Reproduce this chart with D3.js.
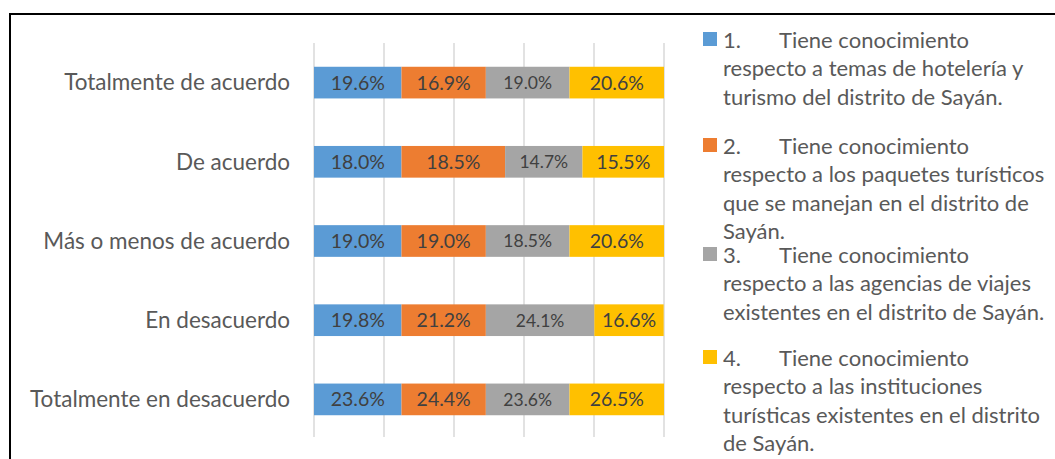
<!DOCTYPE html>
<html>
<head>
<meta charset="utf-8">
<script src="https://cdn.jsdelivr.net/npm/d3@7"></script>
<style>
  body { margin: 0; background: #fff; }
  text { font-family: Lato, "Open Sans", sans-serif; }
</style>
</head>
<body>
<svg class="chart"></svg>
<script>
// Categories (top to bottom) and the four series.
var categories = ["Totalmente de acuerdo", "De acuerdo", "Más o menos de acuerdo", "En desacuerdo", "Totalmente en desacuerdo"];
var seriesKeys = ["s1", "s2", "s3", "s4"];

// Percent labels printed on the bars.
var labels1 = [19.6, 18.0, 19.0, 19.8, 23.6];
var labels2 = [16.9, 18.5, 19.0, 21.2, 24.4];
var labels3 = [19.0, 14.7, 18.5, 24.1, 23.6];
var labels4 = [20.6, 15.5, 20.6, 16.6, 26.5];

// Share of each row (100% stacked).
var share1 = [25.0, 25.0, 25.0, 25.0, 25.0];
var share2 = [24.1, 29.6, 24.1, 24.1, 24.1];
var share3 = [23.9, 22.1, 23.9, 31.0, 23.9];
var share4 = [27.0, 23.3, 27.0, 19.8, 27.0];

var xTicks = [0, 20, 40, 60, 80, 100];

var legendLines = [
    ["1.", "Tiene conocimiento", "respecto a temas de hotelería y", "turismo del distrito de Sayán."],
    ["2.", "Tiene conocimiento", "respecto a los paquetes turísticos", "que se manejan en el distrito de", "Sayán."],
    ["3.", "Tiene conocimiento", "respecto a las agencias de viajes", "existentes en el distrito de Sayán."],
    ["4.", "Tiene conocimiento", "respecto a las instituciones", "turísticas existentes en el distrito", "de Sayán."]
];

var colors = ["#5b9bd5", "#ed7d31", "#a5a5a5", "#ffc000"];

var width = 1055, height = 459;

var labels = [labels1, labels2, labels3, labels4];
var shares = [share1, share2, share3, share4];

// Build rows for d3.stack.
var rows = categories.map(function (c, i) {
    var r = { cat: c };
    seriesKeys.forEach(function (k, j) {
        r[k] = shares[j][i];
        r[k + "_label"] = labels[j][i];
    });
    return r;
});

var svg = d3.select(".chart")
    .attr("width", width)
    .attr("height", height);

// Chart frame (only top and left edges are visible in the crop).
svg.append("rect")
    .attr("x", 10)
    .attr("y", 14)
    .attr("width", width + 20)
    .attr("height", height + 20)
    .attr("fill", "none")
    .attr("stroke", "#000")
    .attr("stroke-width", 2);

var x = d3.scaleLinear()
    .domain([0, 100])
    .range([314, 664]);

var y = d3.scaleBand()
    .domain(categories)
    .range([43, 439])
    .paddingInner(0.6)
    .paddingOuter(0.3);

// Vertical gridlines.
svg.append("g")
    .selectAll("line")
    .data(xTicks)
    .enter()
    .append("line")
    .attr("x1", function (d) { return x(d); })
    .attr("x2", function (d) { return x(d); })
    .attr("y1", 43)
    .attr("y2", 437)
    .attr("stroke", "#d9d9d9")
    .attr("stroke-width", 1.5);

// Category labels.
svg.append("g")
    .selectAll("text")
    .data(categories)
    .enter()
    .append("text")
    .attr("x", 290)
    .attr("y", function (d) { return y(d) + y.bandwidth() / 2; })
    .attr("dy", "0.35em")
    .attr("text-anchor", "end")
    .attr("fill", "#595959")
    .style("font-size", "22.5px")
    .text(function (d) { return d; });

var stacked = d3.stack().keys(seriesKeys)(rows);

var layer = svg.append("g")
    .selectAll("g")
    .data(stacked)
    .enter()
    .append("g")
    .attr("fill", function (d, i) { return colors[i]; });

layer.selectAll("rect")
    .data(function (d) { return d; })
    .enter()
    .append("rect")
    .attr("x", function (d) { return x(d[0]); })
    .attr("width", function (d) { return x(d[1]) - x(d[0]); })
    .attr("y", function (d) { return y(d.data.cat); })
    .attr("height", y.bandwidth());

// Data labels (the grey series uses a smaller font, as in the original).
layer.each(function (s, si) {
    d3.select(this).selectAll("text")
        .data(s)
        .enter()
        .append("text")
        .attr("x", function (d) { return (x(d[0]) + x(d[1])) / 2; })
        .attr("y", function (d) { return y(d.data.cat) + y.bandwidth() / 2; })
        .attr("dy", "0.36em")
        .attr("text-anchor", "middle")
        .attr("fill", "#404040")
        .style("font-size", si === 2 ? "17.5px" : "19.5px")
        .text(function (d) { return d.data[s.key + "_label"].toFixed(1) + "%"; });
});

// Legend: one slot per entry, long entries spill into the next slot.
var lineH = 28.5;
var legend = svg.append("g")
    .selectAll("g")
    .data(legendLines)
    .enter()
    .append("g")
    .attr("transform", function (d, i) {
        return "translate(703," + (40 + i * 106 + (i === 2 ? 3 : 0)) + ")";
    });

legend.append("rect")
    .attr("x", 0)
    .attr("y", -8)
    .attr("width", 14)
    .attr("height", 14)
    .attr("fill", function (d, i) { return colors[i]; });

legend.each(function (d) {
    var g = d3.select(this);
    var t = g.append("text")
        .attr("fill", "#595959")
        .style("font-size", "22px");
    t.append("tspan").attr("x", 20).attr("y", 0).attr("dy", "0.35em").text(d[0]);
    t.append("tspan").attr("x", 76).attr("y", 0).attr("dy", "0.35em").text(d[1]);
    d.slice(2).forEach(function (line, k) {
        t.append("tspan").attr("x", 20).attr("y", (k + 1) * lineH).attr("dy", "0.35em").text(line);
    });
});
</script>
</body>
</html>
